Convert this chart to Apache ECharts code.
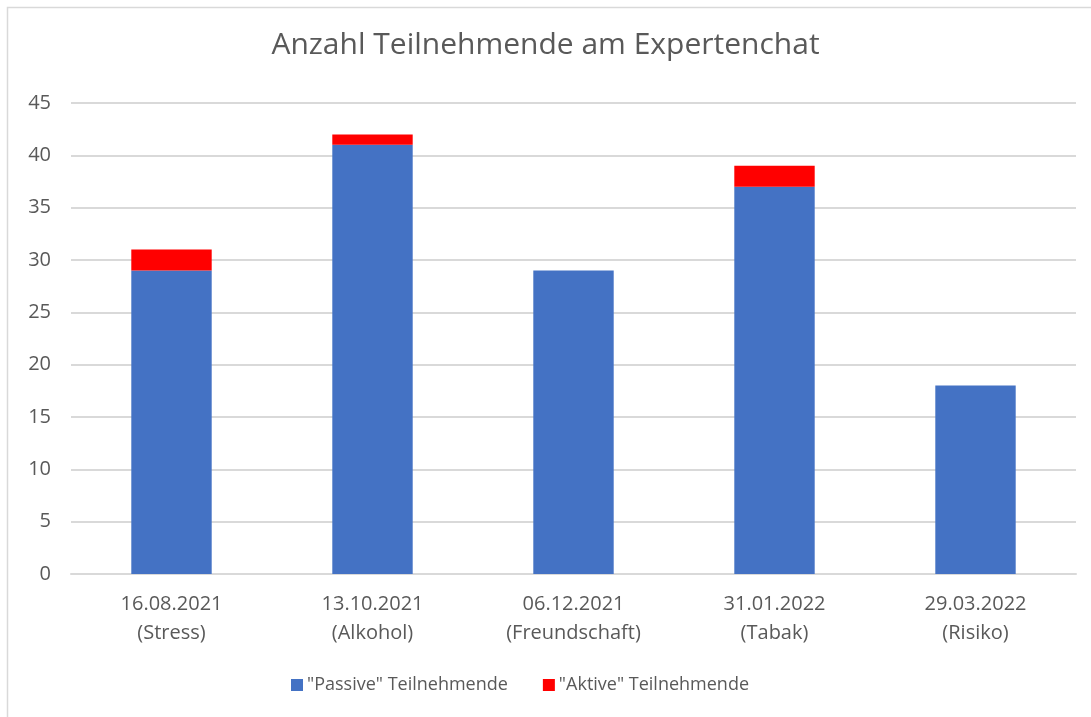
<!DOCTYPE html>
<html><head><meta charset="utf-8">
<script src="https://cdn.jsdelivr.net/npm/echarts@6/dist/echarts.min.js"></script>
<style>html,body{margin:0;padding:0;background:#fff}#c{width:1091px;height:717px}</style>
</head><body><div id="c"></div>
<script>
const categories = ['16.08.2021\n(Stress)', '13.10.2021\n(Alkohol)', '06.12.2021\n(Freundschaft)', '31.01.2022\n(Tabak)', '29.03.2022\n(Risiko)'];
const passive = [29, 41, 29, 37, 18];
const active = [2, 1, 0, 2, 0];
const yTicks = { min: 0, max: 45, interval: 5 };

const chart = echarts.init(document.getElementById('c'));
const font = '"Open Sans", "Noto Sans", sans-serif';
chart.setOption({
  animation: false,
  graphic: [{ type: 'rect', shape: { x: 7.5, y: 7.5, width: 1100, height: 730 }, style: { fill: 'none', stroke: '#d9d9d9', lineWidth: 1.5 }, silent: true }],
  title: { text: 'Anzahl Teilnehmende am Expertenchat', left: 'center', top: 25,
    textStyle: { fontFamily: font, fontSize: 30, fontWeight: 'normal', color: '#595959' } },
  legend: { top: 671, left: 286, itemWidth: 12, itemHeight: 12, itemGap: 35, icon: 'rect',
    textStyle: { fontFamily: font, fontSize: 18, color: '#595959', padding: [0, 0, 0, -1] } },
  grid: { left: 71, right: 15, top: 103, bottom: 143 },
  xAxis: { type: 'category', data: categories,
    axisLine: { lineStyle: { color: '#d9d9d9', width: 2 } }, axisTick: { show: false },
    axisLabel: { fontFamily: font, fontSize: 20, color: '#595959', margin: 16, lineHeight: 29 } },
  yAxis: { type: 'value', min: yTicks.min, max: yTicks.max, interval: yTicks.interval,
    axisLine: { show: false }, axisTick: { show: false },
    splitLine: { lineStyle: { color: '#d9d9d9', width: 2 } },
    axisLabel: { fontFamily: font, fontSize: 20, color: '#595959', margin: 20 } },
  series: [
    { name: '"Passive" Teilnehmende', type: 'bar', stack: 's', data: passive, barCategoryGap: '60%', itemStyle: { color: '#4472c4' } },
    { name: '"Aktive" Teilnehmende', type: 'bar', stack: 's', data: active, barCategoryGap: '60%', itemStyle: { color: '#ff0000' } }
  ]
});
</script></body></html>
